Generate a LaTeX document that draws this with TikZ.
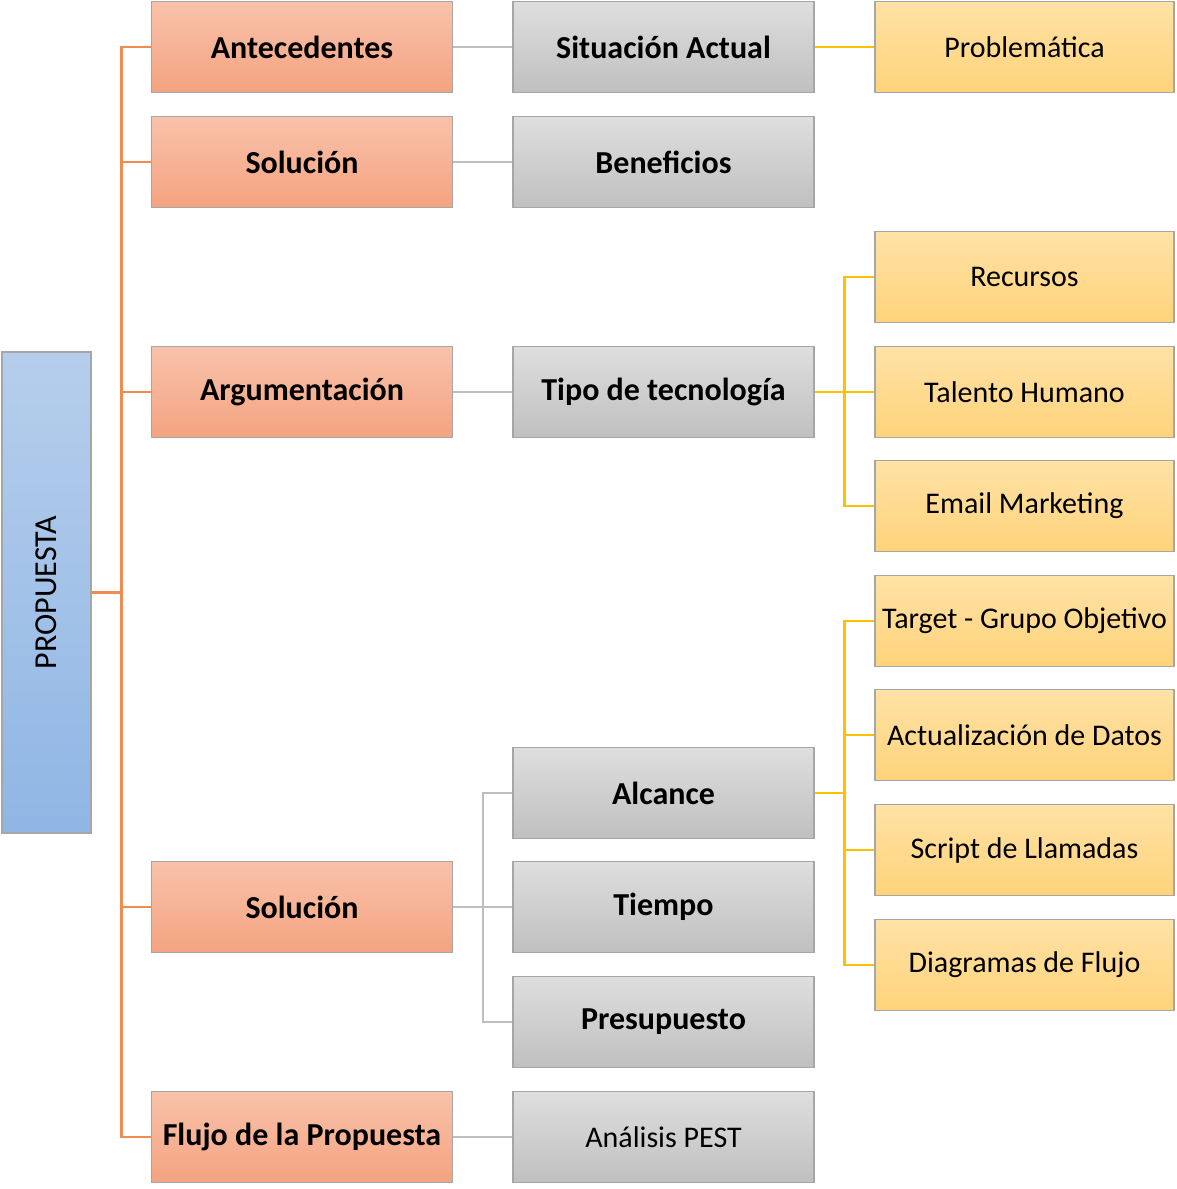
\documentclass[tikz,border=0pt]{standalone}
\usepackage{fontspec}
\setmainfont{Carlito}
\usepackage{graphicx}
\usepackage{xcolor}
\usepackage{tikz}

\definecolor{naranjaSup}{RGB}{249,194,171}
\definecolor{naranjaInf}{RGB}{244,163,128}
\definecolor{grisSup}{RGB}{222,222,222}
\definecolor{grisInf}{RGB}{192,192,192}
\definecolor{amarilloSup}{RGB}{255,226,166}
\definecolor{amarilloInf}{RGB}{255,211,122}
\definecolor{azulSup}{RGB}{182,206,236}
\definecolor{azulInf}{RGB}{143,182,228}
\definecolor{lineaNaranja}{RGB}{240,140,80}
\definecolor{lineaGris}{RGB}{190,190,190}
\definecolor{lineaAmarilla}{RGB}{255,192,0}

\begin{document}
\begin{tikzpicture}[x=1pt,y=-1pt,
		caja/.style={draw=black!35, line width=1.2pt, minimum width=301pt, minimum height=91pt, inner sep=0pt},
		naranja/.style={caja, top color=naranjaSup, bottom color=naranjaInf, font=\fontsize{32}{38}\selectfont\bfseries},
		gris/.style={caja, top color=grisSup, bottom color=grisInf, font=\fontsize{32}{38}\selectfont\bfseries},
		amarilla/.style={caja, minimum width=299pt, top color=amarilloSup, bottom color=amarilloInf, font=\fontsize{30}{36}\selectfont},
		lineaN/.style={draw=lineaNaranja, line width=2.6pt},
		lineaG/.style={draw=lineaGris, line width=2.6pt},
		lineaA/.style={draw=lineaAmarilla, line width=2.6pt}]
		\useasboundingbox (0,0) rectangle (1176,1189);
		
		% raiz
		\node[caja, minimum width=89pt, minimum height=481pt, top color=azulSup, bottom color=azulInf,
			font=\fontsize{32}{38}\selectfont] (prop) at (46.5,592.5) {\rotatebox{90}{PROPUESTA}};
		
		% primer nivel
		\node[naranja] (ant) at (302,47) {Antecedentes};
		\node[naranja] (sol) at (302,162) {Solución};
		\node[naranja] (arg) at (302,392) {Argumentación};
		\node[naranja] (solb) at (302,907) {Solución};
		\node[naranja] (flujo) at (302,1137) {Flujo de la Propuesta};
		
		% segundo nivel
		\node[gris] (sit) at (663.5,47) {Situación Actual};
		\node[gris] (ben) at (663.5,162) {Beneficios};
		\node[gris] (tipo) at (663.5,392) {Tipo de tecnología};
		\node[gris] (alc) at (663.5,793) {Alcance};
		\node[gris] (tie) at (663.5,907) {Tiempo};
		\node[gris] (pre) at (663.5,1022) {Presupuesto};
		\node[gris, font=\fontsize{30}{36}\selectfont] (pest) at (663.5,1137) {Análisis PEST};
		
		% tercer nivel
		\node[amarilla] (prob) at (1024.5,47) {Problemática};
		\node[amarilla] (rec) at (1024.5,277) {Recursos};
		\node[amarilla] (tal) at (1024.5,392) {Talento Humano};
		\node[amarilla] (email) at (1024.5,506) {Email Marketing};
		\node[amarilla] (target) at (1024.5,621) {Target - Grupo Objetivo};
		\node[amarilla] (act) at (1024.5,735) {Actualización de Datos};
		\node[amarilla] (script) at (1024.5,850) {Script de Llamadas};
		\node[amarilla] (diag) at (1024.5,965) {Diagramas de Flujo};
		
		% conectores
		\foreach \n in {ant,sol,arg,solb,flujo}{
			\draw[lineaN] (prop.east) -- ++(30,0) |- (\n.west);
		}
		\draw[lineaG] (ant) -- (sit);
		\draw[lineaG] (sol) -- (ben);
		\draw[lineaG] (arg) -- (tipo);
		\draw[lineaG] (flujo) -- (pest);
		\foreach \n in {alc,tie,pre}{
			\draw[lineaG] (solb.east) -- ++(30,0) |- (\n.west);
		}
		\draw[lineaA] (sit) -- (prob);
		\foreach \n in {rec,tal,email}{
			\draw[lineaA] (tipo.east) -- ++(30,0) |- (\n.west);
		}
		\foreach \n in {target,act,script,diag}{
			\draw[lineaA] (alc.east) -- ++(30,0) |- (\n.west);
		}
	\end{tikzpicture}
\end{document}
